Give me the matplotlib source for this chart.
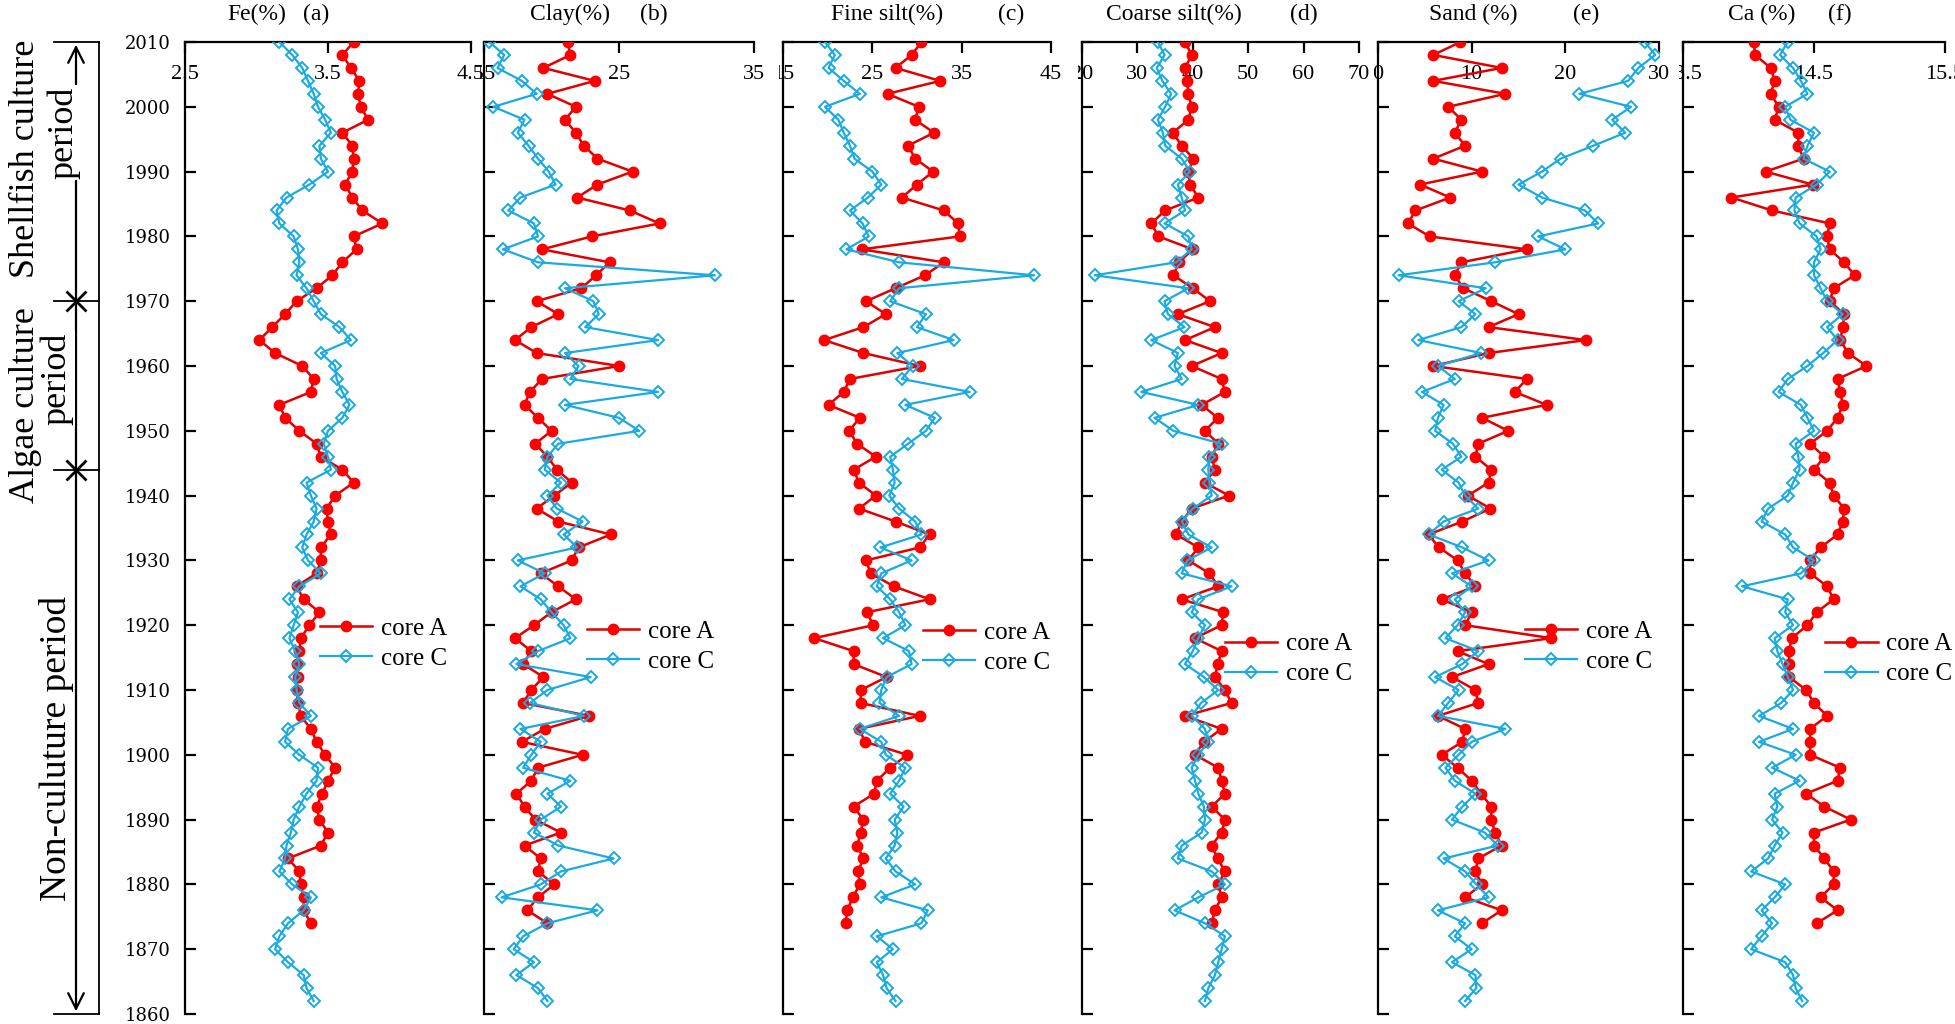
import matplotlib
matplotlib.use('Agg')
import matplotlib.pyplot as plt
from matplotlib.transforms import Bbox, TransformedBbox

plt.rcParams['font.family'] = ['Liberation Serif', 'DejaVu Serif']

# sample years (2-yr steps, top of core first)
years_A = [2010, 2008, 2006, 2004, 2002, 2000, 1998, 1996, 1994, 1992,
           1990, 1988, 1986, 1984, 1982, 1980, 1978, 1976, 1974, 1972,
           1970, 1968, 1966, 1964, 1962, 1960, 1958, 1956, 1954, 1952,
           1950, 1948, 1946, 1944, 1942, 1940, 1938, 1936, 1934, 1932,
           1930, 1928, 1926, 1924, 1922, 1920, 1918, 1916, 1914, 1912,
           1910, 1908, 1906, 1904, 1902, 1900, 1898, 1896, 1894, 1892,
           1890, 1888, 1886, 1884, 1882, 1880, 1878, 1876, 1874]
years_C = years_A + [1872, 1870, 1868, 1866, 1864, 1862]

fe_A = [3.68, 3.60, 3.66, 3.72, 3.71, 3.73, 3.78, 3.60, 3.67, 3.68,
        3.67, 3.62, 3.67, 3.74, 3.88, 3.68, 3.70, 3.60, 3.53, 3.42,
        3.28, 3.20, 3.11, 3.02, 3.13, 3.32, 3.40, 3.38, 3.16, 3.20,
        3.30, 3.42, 3.45, 3.60, 3.68, 3.55, 3.49, 3.50, 3.52, 3.45,
        3.45, 3.42, 3.28, 3.33, 3.44, 3.37, 3.31, 3.30, 3.28, 3.29,
        3.28, 3.29, 3.31, 3.38, 3.42, 3.48, 3.55, 3.50, 3.46, 3.42,
        3.44, 3.50, 3.45, 3.22, 3.30, 3.31, 3.33, 3.33, 3.38]
fe_C = [3.16, 3.25, 3.32, 3.36, 3.40, 3.43, 3.48, 3.52, 3.44, 3.45,
        3.50, 3.37, 3.21, 3.14, 3.16, 3.26, 3.29, 3.30, 3.28, 3.35,
        3.40, 3.45, 3.58, 3.66, 3.45, 3.55, 3.56, 3.60, 3.65, 3.60,
        3.50, 3.47, 3.50, 3.52, 3.35, 3.38, 3.42, 3.40, 3.35, 3.32,
        3.36, 3.45, 3.30, 3.23, 3.29, 3.26, 3.23, 3.27, 3.30, 3.27,
        3.28, 3.30, 3.38, 3.22, 3.20, 3.30, 3.43, 3.42, 3.35, 3.30,
        3.26, 3.24, 3.21, 3.20, 3.16, 3.25, 3.38, 3.33, 3.22, 3.16,
        3.13, 3.22, 3.33, 3.35, 3.40]

clay_A = [21.2, 21.4, 19.4, 23.2, 19.7, 21.8, 21.0, 21.8, 22.4, 23.4,
          26.0, 23.4, 21.9, 25.8, 28.0, 23.0, 19.3, 24.3, 23.3, 22.2,
          18.9, 20.5, 18.5, 17.3, 18.9, 25.0, 19.3, 18.4, 18.0, 19.0,
          20.0, 18.8, 19.7, 20.4, 21.5, 20.2, 18.9, 20.5, 24.4, 22.0,
          21.5, 19.2, 20.5, 21.8, 20.0, 18.7, 17.3, 18.5, 17.9, 19.4,
          18.5, 17.9, 22.8, 19.5, 17.8, 22.3, 19.0, 18.5, 17.4, 18.0,
          18.8, 20.7, 18.0, 19.2, 19.0, 20.2, 19.0, 18.2, 19.7]
clay_C = [15.4, 16.5, 16.0, 17.8, 18.9, 15.7, 18.0, 17.5, 18.3, 19.0,
          19.8, 20.3, 17.7, 16.8, 18.7, 19.0, 16.4, 19.0, 32.1, 21.0,
          23.1, 23.5, 22.5, 27.9, 21.0, 22.0, 21.4, 27.9, 21.0, 25.0,
          26.5, 20.5, 19.7, 19.5, 20.7, 19.7, 20.4, 22.3, 20.9, 21.9,
          17.5, 19.5, 17.7, 19.2, 20.0, 20.9, 21.4, 19.0, 17.4, 22.9,
          19.7, 18.4, 22.4, 17.7, 19.2, 18.5, 17.9, 21.4, 19.7, 20.7,
          19.2, 18.7, 20.5, 24.6, 20.7, 19.2, 16.3, 23.4, 19.7, 17.9,
          17.2, 18.7, 17.4, 19.0, 19.7]

fine_A = [30.5, 29.4, 27.6, 32.6, 26.7, 30.2, 29.8, 31.9, 29.0, 29.8,
          31.8, 30.0, 28.3, 33.0, 34.6, 34.8, 23.8, 33.0, 30.9, 27.6,
          24.3, 26.5, 24.0, 19.6, 24.0, 30.3, 22.5, 21.8, 20.1, 23.6,
          22.4, 23.3, 25.4, 22.9, 23.5, 25.4, 23.5, 27.6, 31.4, 30.3,
          24.3, 24.8, 27.4, 31.4, 24.4, 25.1, 18.5, 22.9, 22.9, 26.6,
          23.7, 23.7, 30.3, 23.5, 24.2, 28.9, 27.0, 25.5, 25.2, 22.9,
          24.0, 23.7, 23.3, 24.0, 23.4, 23.6, 22.8, 22.2, 22.0]
fine_C = [19.7, 20.8, 20.1, 21.8, 23.6, 19.7, 21.2, 21.8, 22.5, 23.0,
          25.0, 26.0, 24.5, 22.5, 23.9, 24.6, 22.1, 28.0, 43.1, 28.0,
          27.0, 31.0, 30.0, 34.1, 27.8, 29.5, 28.3, 35.9, 28.7, 32.0,
          31.0, 29.0, 27.0, 27.3, 27.5, 26.9, 28.0, 29.8, 30.5, 25.9,
          29.4, 26.0, 25.5, 27.0, 28.0, 28.7, 26.2, 29.1, 29.4, 26.6,
          26.0, 25.8, 28.0, 23.6, 26.0, 26.5, 28.7, 28.0, 27.0, 28.5,
          27.5, 27.8, 27.5, 26.5, 27.6, 29.8, 26.0, 31.2, 30.5, 25.5,
          27.3, 25.5, 26.2, 26.6, 27.6]

coarse_A = [38.6, 39.8, 38.6, 39.0, 39.2, 39.8, 39.2, 36.4, 38.0, 40.1,
            39.2, 39.5, 41.0, 35.0, 32.5, 33.8, 40.0, 37.5, 36.5, 40.0,
            43.1, 37.3, 44.0, 38.6, 45.2, 39.8, 45.2, 45.8, 41.6, 44.5,
            42.2, 44.6, 43.4, 44.0, 42.2, 46.5, 39.8, 38.0, 37.0, 41.0,
            39.2, 43.0, 44.6, 38.0, 45.5, 45.2, 40.4, 45.2, 44.5, 44.0,
            45.8, 47.0, 38.6, 45.2, 42.0, 40.4, 44.6, 45.2, 45.8, 43.4,
            45.8, 45.2, 43.4, 44.5, 45.8, 44.6, 45.2, 44.0, 43.4]
coarse_C = [33.7, 34.9, 33.5, 34.5, 36.1, 35.0, 33.7, 34.6, 35.0, 38.0,
            39.5, 37.3, 38.0, 38.6, 34.9, 39.2, 39.8, 37.0, 22.3, 39.2,
            34.9, 35.5, 38.5, 32.5, 37.3, 36.7, 38.0, 30.7, 41.0, 33.1,
            36.5, 45.2, 43.0, 42.8, 43.0, 43.4, 40.0, 38.0, 39.2, 43.4,
            39.0, 38.0, 47.0, 41.0, 39.8, 42.2, 41.0, 40.0, 38.6, 42.0,
            44.6, 41.5, 39.8, 42.2, 42.8, 41.0, 39.8, 40.4, 41.0, 42.0,
            42.2, 41.6, 38.0, 37.3, 43.4, 45.8, 41.0, 36.7, 42.2, 45.8,
            45.2, 44.6, 44.0, 42.8, 42.2]

sand_A = [8.8, 5.9, 13.2, 5.9, 13.6, 7.5, 8.9, 8.2, 9.3, 5.9,
          11.1, 4.5, 7.7, 4.0, 3.2, 5.5, 15.9, 8.9, 8.2, 9.1,
          12.1, 15.0, 11.8, 22.2, 11.8, 5.9, 15.9, 14.6, 18.0, 11.1,
          13.9, 10.7, 10.4, 12.1, 11.8, 9.6, 12.0, 9.0, 5.4, 6.5,
          8.5, 9.3, 10.4, 6.8, 10.0, 9.3, 18.5, 8.5, 11.8, 7.9,
          10.4, 10.7, 6.4, 9.3, 9.0, 6.8, 8.5, 10.0, 11.0, 12.1,
          12.1, 12.5, 13.2, 10.7, 10.4, 11.1, 9.3, 13.2, 11.1]
sand_C = [28.5, 29.6, 27.8, 26.7, 21.5, 27.0, 25.0, 26.4, 23.0, 19.5,
          17.5, 15.0, 17.5, 22.1, 23.5, 17.1, 20.0, 12.5, 2.2, 11.5,
          8.6, 10.4, 8.9, 4.3, 11.0, 6.4, 8.2, 4.7, 7.0, 6.4,
          6.1, 8.0, 8.9, 6.8, 8.6, 9.3, 10.7, 7.0, 5.4, 9.0,
          11.8, 7.9, 10.0, 8.2, 9.3, 8.5, 7.2, 10.7, 9.0, 6.1,
          8.6, 7.5, 6.4, 13.6, 10.0, 8.6, 7.2, 8.2, 10.4, 9.0,
          7.9, 11.4, 12.8, 7.0, 9.3, 10.5, 11.8, 6.4, 9.3, 8.2,
          10.0, 7.9, 10.4, 10.5, 9.3]

ca_A = [14.04, 14.05, 14.17, 14.20, 14.17, 14.23, 14.20, 14.38, 14.38, 14.42,
        14.13, 14.49, 13.87, 14.18, 14.62, 14.60, 14.62, 14.73, 14.81, 14.65,
        14.62, 14.73, 14.72, 14.70, 14.76, 14.90, 14.68, 14.70, 14.72, 14.68,
        14.60, 14.47, 14.58, 14.50, 14.62, 14.65, 14.73, 14.72, 14.68, 14.55,
        14.47, 14.47, 14.60, 14.65, 14.52, 14.45, 14.33, 14.31, 14.31, 14.31,
        14.44, 14.50, 14.60, 14.47, 14.47, 14.47, 14.70, 14.68, 14.44, 14.58,
        14.78, 14.50, 14.50, 14.58, 14.65, 14.65, 14.55, 14.68, 14.52]
ca_C = [14.30, 14.24, 14.34, 14.40, 14.45, 14.28, 14.32, 14.50, 14.45, 14.42,
        14.62, 14.52, 14.36, 14.35, 14.39, 14.52, 14.55, 14.50, 14.50, 14.55,
        14.60, 14.72, 14.60, 14.68, 14.57, 14.45, 14.30, 14.23, 14.40, 14.45,
        14.50, 14.36, 14.38, 14.39, 14.34, 14.30, 14.15, 14.10, 14.28, 14.34,
        14.50, 14.40, 13.95, 14.30, 14.28, 14.34, 14.20, 14.22, 14.26, 14.30,
        14.34, 14.25, 14.08, 14.34, 14.08, 14.36, 14.18, 14.39, 14.20, 14.22,
        14.18, 14.26, 14.20, 14.15, 14.02, 14.28, 14.20, 14.10, 14.18, 14.10,
        14.02, 14.28, 14.34, 14.36, 14.41]

titles = ['Fe(%)', 'Clay(%)', 'Fine silt(%)', 'Coarse silt(%)', 'Sand (%)', 'Ca (%)']
tags = ['(a)', '(b)', '(c)', '(d)', '(e)', '(f)']
xticks = [[2.5, 3.5, 4.5], [15, 25, 35], [15, 25, 35, 45],
          [20, 30, 40, 50, 60, 70], [0, 10, 20, 30], [13.5, 14.5, 15.5]]
xtick_labels = [['2.5', '3.5', '4.5'], ['15', '25', '35'], ['15', '25', '35', '45'],
                ['20', '30', '40', '50', '60', '70'], ['0', '10', '20', '30'],
                ['13.5', '14.5', '15.5']]
year_ticks = [2010, 2000, 1990, 1980, 1970, 1960, 1950, 1940,
              1930, 1920, 1910, 1900, 1890, 1880, 1870, 1860]
series_A = [fe_A, clay_A, fine_A, coarse_A, sand_A, ca_A]
series_C = [fe_C, clay_C, fine_C, coarse_C, sand_C, ca_C]

# layout, in pixels of the 1955x1024 output
W, H = 1955, 1024
top_px, bot_px = 42, 1014
panel_px = [(185, 471), (484, 754), (783, 1051), (1082, 1359), (1378, 1659), (1683, 1945)]
title_fx = [0.25, 0.32, 0.39, 0.33, 0.34, 0.30]
tag_fx = [0.46, 0.63, 0.85, 0.80, 0.74, 0.60]
leg_pos = [(0.472, 0.381), (0.381, 0.378), (0.522, 0.377),
           (0.516, 0.365), (0.523, 0.378), (0.542, 0.365)]

RED = '#FF0000'
BLUE = '#1AAAE2'

fig = plt.figure(figsize=(W / 100, H / 100), dpi=100)
ybot = 1 - bot_px / H
yh = (bot_px - top_px) / H

for i in range(6):
    x0, x1 = panel_px[i]
    ax = fig.add_axes([x0 / W, ybot, (x1 - x0) / W, yh])
    ax.plot(series_A[i], years_A, color='#E00000', lw=1.8, marker='o', ms=7.5,
            mfc=RED, mec=RED, label='core A', zorder=3)
    ax.plot(series_C[i], years_C, color=BLUE, lw=1.6, marker='D', ms=6.5,
            mfc='none', mec=BLUE, mew=1.4, label='core C', zorder=4)
    ax.set_ylim(1860, 2010)
    ax.set_xlim(xticks[i][0], xticks[i][-1])
    ax.set_xticks(xticks[i])
    ax.set_xticklabels(xtick_labels[i], fontsize=16)
    ax.set_yticks(year_ticks)
    for s in ['right', 'bottom']:
        ax.spines[s].set_visible(False)
    for s in ['left', 'top']:
        ax.spines[s].set_linewidth(1.6)
    ax.tick_params(axis='x', direction='in', length=8, width=1.6, top=True, bottom=False,
                   labeltop=True, labelbottom=False, pad=-30)
    ax.tick_params(axis='y', direction='in', length=8, width=1.6, left=True, right=False)
    if i == 0:
        ax.set_yticklabels([str(y) for y in year_ticks], fontsize=13, fontfamily='DejaVu Serif')
        ax.tick_params(axis='y', pad=10)
    else:
        ax.set_yticklabels([])
        # first tick label is cut by the panel's own left edge, as in the source
        clip = TransformedBbox(Bbox.from_extents((x0 - 4) / W, 0, 1, 1), fig.transFigure)
        lab = ax.xaxis.get_major_ticks()[0].label2
        lab.set_clip_box(clip)
        lab.set_clip_on(True)
    ax.text(title_fx[i], 1.028, titles[i], transform=ax.transAxes, fontsize=17,
            ha='center', va='center')
    ax.text(tag_fx[i], 1.028, tags[i], transform=ax.transAxes, fontsize=17,
            ha='center', va='center')
    ax.legend(loc='center left', bbox_to_anchor=leg_pos[i], frameon=False, fontsize=18,
              borderpad=0, borderaxespad=0, handlelength=2.1, handletextpad=0.35,
              labelspacing=0.3)

# period annotation on the left
ann = fig.add_axes([0, ybot, 185 / W, yh])
ann.set_xlim(0, 185)
ann.set_ylim(1860, 2010)
ann.axis('off')
ann.annotate('', xy=(76, 2010), xytext=(76, 1860),
             arrowprops=dict(arrowstyle='<->', lw=1.6, color='black', mutation_scale=28),
             annotation_clip=False)
ann.plot([76, 76], [1970, 1944], ls='none', marker='x', ms=15, mew=2, color='black',
         clip_on=False)
ann.plot([99, 99], [1860, 2010], color='black', lw=1.3, clip_on=False)
for y in [2010, 1970, 1944, 1860]:
    ann.plot([54, 99], [y, y], color='black', lw=1.3, clip_on=False)
ann.text(26, 1992, 'Shellfish culture', rotation=90, fontsize=26, ha='center', va='center')
ann.text(64, 1996, 'period', rotation=90, fontsize=26, ha='center', va='center',
         bbox=dict(fc='white', ec='none', pad=1))
ann.text(26, 1954, 'Algae culture', rotation=90, fontsize=26, ha='center', va='center')
ann.text(57, 1958, 'period', rotation=90, fontsize=26, ha='center', va='center',
         bbox=dict(fc='white', ec='none', pad=1))
ann.text(57, 1901, 'Non-culuture period', rotation=90, fontsize=27, ha='center', va='center')

fig.savefig('out.png', dpi=100)
